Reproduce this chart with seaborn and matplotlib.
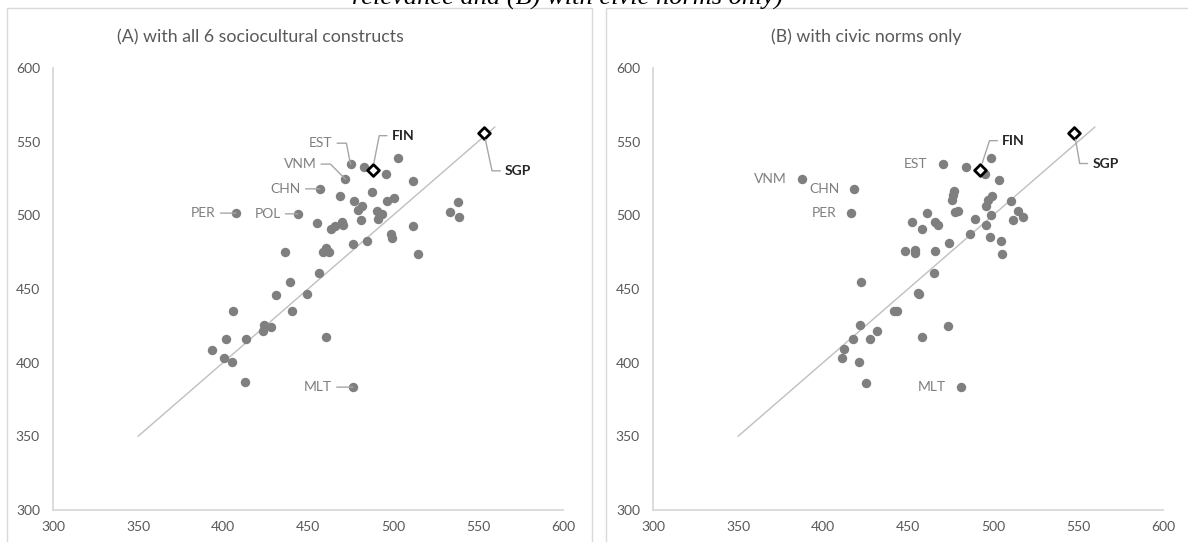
import matplotlib
matplotlib.use("Agg")
import matplotlib.pyplot as plt
from matplotlib.patches import Rectangle
import seaborn as sns

# ---- Panel A: all 6 sociocultural constructs (predicted vs. observed) ----
a_x = [407.6, 444, 457, 472, 475, 476.5, 483, 503, 496, 512, 487.6, 469, 477, 482,
       479.6, 496.5, 500.6, 490.6, 493.5, 491, 481, 455, 463.5, 466, 470, 470.6,
       511.8, 533.5, 538, 538.8, 476.5, 484.7, 498.8, 499.4, 514.7, 459, 460.6,
       462.4, 436.5, 456.5, 439.4, 449.4, 431, 440.6, 406, 424, 423.5, 428, 401.6,
       413.5, 393.5, 400.6, 405, 413, 460.6]
a_y = [501.5, 501, 518, 524.6, 534.7, 383.4, 532.7, 539, 528, 523, 516, 513, 509.6,
       506, 503.5, 510, 512, 503, 501, 497.5, 497, 495, 490.6, 492.7, 495.4, 493.4,
       493, 502, 509, 498.8, 480.5, 482.5, 487, 484.5, 473.7, 475, 477.7, 475, 475,
       460.8, 454.7, 446.5, 445.9, 435, 435, 425.5, 421.4, 424, 416, 416, 408.5,
       403, 400.4, 387, 417.4]

# labelled countries in panel A
a_lab = ["PER", "POL", "CHN", "VNM", "EST", "MLT"]
a_lab_x = [407.6, 444, 457, 472, 475, 476.5]
a_lab_y = [501.5, 501, 518, 524.6, 534.7, 383.4]

# ---- Panel B: civic norms only ----
b_x = [387.6, 418.4, 416.5, 422.2, 470.4, 484, 498.6, 495.3, 503.5, 477, 476.3,
       475.7, 499.4, 497.2, 495.9, 510.6, 479.6, 477.6, 514.5, 517.5, 499, 511.6,
       461.4, 452.5, 458, 466, 467.8, 489.6, 495.9, 486.5, 498.2, 504.5, 505.3,
       448.2, 454.1, 454.1, 466, 474.1, 465.5, 455.7, 456.6, 442, 443.5, 421.6,
       431.6, 417.5, 427.6, 412.2, 411.2, 421, 425.5, 473.7, 458.2, 481]
b_y = [524.8, 518.2, 501.7, 454.9, 534.7, 533, 539, 528, 523.7, 516.6, 513.7,
       510.3, 513, 510.3, 506.3, 509.4, 503, 502.2, 502.8, 499, 500.4, 496.7,
       501.3, 495.4, 490.8, 495.6, 493.4, 497.4, 493.6, 487, 485, 482.7, 473.7,
       475.7, 476.4, 474.6, 475.7, 481, 461, 447, 446.3, 435.2, 435, 425.3,
       421.2, 415.8, 415.8, 409, 403.1, 400.6, 386.4, 424.8, 417.6, 383.6]

b_lab = ["VNM", "CHN", "PER", "EST", "MLT"]
b_lab_x = [387.6, 418.4, 416.5, 470.4, 481]
b_lab_y = [524.8, 518.2, 501.7, 534.7, 383.6]

# highlighted countries (FIN, SGP)
hi_codes = ["FIN", "SGP"]
a_hi_x = [488, 553.5]
a_hi_y = [531, 556]
b_hi_x = [492.4, 547.8]
b_hi_y = [531, 556.2]

# 45-degree reference line
ref_x = [350, 560]
ref_y = [350, 560]

ticks = [300, 350, 400, 450, 500, 550, 600]

sns.set_theme(style="white")
plt.rcParams["font.family"] = ["Lato", "DejaVu Sans"]

W, H = 1188, 542
fig = plt.figure(figsize=(W / 100, H / 100), dpi=100)
fig.patch.set_facecolor("white")

# chart-area frames
for x0, x1 in [(7, 592), (606, 1195)]:
    fig.patches.append(Rectangle((x0 / W, -0.02), (x1 - x0) / W, 1 - 8 / H + 0.02,
                                 transform=fig.transFigure, fill=False,
                                 edgecolor="#d9d9d9", lw=1.0))

ax_a = fig.add_axes([53 / W, 1 - 510 / H, 510 / W, 442 / H])
ax_b = fig.add_axes([653 / W, 1 - 510 / H, 510 / W, 442 / H])

GRAY_DOT = "#7f7f7f"
LEAD = "#a6a6a6"
LABEL_C = "#7f7f7f"
PX = 0.72  # pixels -> points


def style_axes(ax):
    ax.set_xlim(300, 600)
    ax.set_ylim(300, 600)
    ax.set_xticks(ticks)
    ax.set_yticks(ticks)
    ax.tick_params(length=0, labelsize=10, labelcolor="#595959")
    ax.tick_params(axis="y", pad=13 * PX)
    ax.tick_params(axis="x", pad=11 * PX)
    for s in ["top", "right"]:
        ax.spines[s].set_visible(False)
    for s in ["left", "bottom"]:
        ax.spines[s].set_color("#d9d9d9")
        ax.spines[s].set_linewidth(1.3)
    ax.set_xlabel("")
    ax.set_ylabel("")
    ax.set_facecolor("white")


def draw_panel(ax, xs, ys, hx, hy):
    sns.lineplot(x=ref_x, y=ref_y, ax=ax, color="#bfbfbf", lw=1.0, zorder=1)
    sns.scatterplot(x=xs, y=ys, ax=ax, color=GRAY_DOT, s=46, linewidth=0, zorder=3)
    sns.scatterplot(x=hx, y=hy, ax=ax, marker="D", s=36, facecolor="white",
                    edgecolor="black", linewidth=2.0, zorder=5)
    style_axes(ax)


draw_panel(ax_a, a_x, a_y, a_hi_x, a_hi_y)
draw_panel(ax_b, b_x, b_y, b_hi_x, b_hi_y)


def note(ax, text, x, y, dx, dy, ha, conn=None, bold=False, line=True, shrinkB=0):
    kw = dict(fontsize=10, color=LABEL_C, ha=ha, va="center", zorder=6)
    if bold:
        kw.update(color="#262626", fontweight="bold")
    arrow = None
    if line:
        arrow = dict(arrowstyle="-", color=LEAD, lw=1.0, shrinkA=1, shrinkB=shrinkB,
                     connectionstyle=conn or "arc3,rad=0")
    ax.annotate(text, xy=(x, y), xytext=(dx * PX, dy * PX), textcoords="offset points",
                arrowprops=arrow, annotation_clip=False, **kw)


# panel A labels (offsets in pixels: right, up)
a_offsets = {
    "PER": (-20, 0, None),
    "POL": (-17, 0, None),
    "CHN": (-19, 0, None),
    "VNM": (-29, 15, "angle,angleA=0,angleB=135,rad=0"),
    "EST": (-18, 21, "angle,angleA=0,angleB=101,rad=0"),
    "MLT": (-21, 0, None),
}
for code, x, y in zip(a_lab, a_lab_x, a_lab_y):
    dx, dy, conn = a_offsets[code]
    note(ax_a, code, x, y, dx, dy, "right", conn)

note(ax_a, hi_codes[0], a_hi_x[0], a_hi_y[0], 19, 34, "left",
     "angle,angleA=0,angleB=79,rad=0", bold=True, shrinkB=5)
note(ax_a, hi_codes[1], a_hi_x[1], a_hi_y[1], 21, -38, "left",
     "angle,angleA=0,angleB=-78,rad=0", bold=True, shrinkB=5)

# panel B labels
for code, x, y in zip(b_lab, b_lab_x, b_lab_y):
    note(ax_b, code, x, y, -15, 0, "right", line=False)

note(ax_b, hi_codes[0], b_hi_x[0], b_hi_y[0], 22, 29, "left",
     "angle,angleA=0,angleB=72,rad=0", bold=True, shrinkB=5)
note(ax_b, hi_codes[1], b_hi_x[1], b_hi_y[1], 18, -31, "left",
     "angle,angleA=0,angleB=-80,rad=0", bold=True, shrinkB=5)

# panel titles
fig.text(260 / W, 1 - 37 / H, "(A) with all 6 sociocultural constructs",
         ha="center", va="center", fontsize=12.8, color="#595959")
fig.text(866 / W, 1 - 37 / H, "(B) with civic norms only",
         ha="center", va="center", fontsize=12.8, color="#595959")

# caption line running off the top edge
fig.text(567 / W, 1 - 5 / H, "relevance and (B) with civic norms only)",
         ha="center", va="baseline", fontsize=19, style="italic",
         family=["Liberation Serif", "DejaVu Serif"], color="black")

fig.savefig("out.png", dpi=100, facecolor="white")
